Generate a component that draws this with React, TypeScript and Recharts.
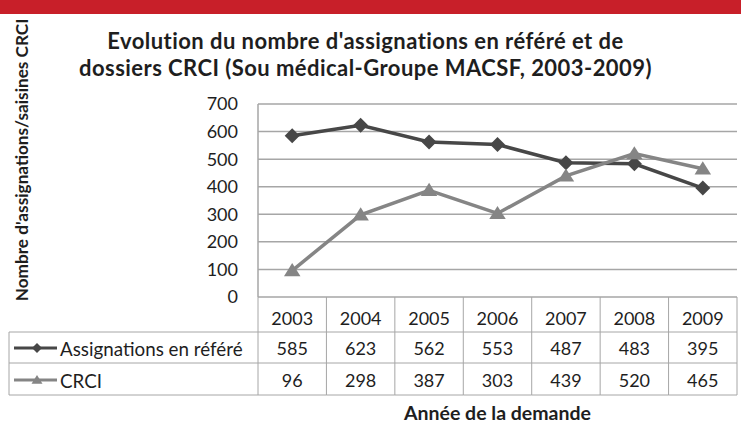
import { CartesianGrid, Legend, Line, LineChart, XAxis, YAxis } from "recharts";

const years = ["2003", "2004", "2005", "2006", "2007", "2008", "2009"];
const assignations = [585, 623, 562, 553, 487, 483, 395];
const crci = [96, 298, 387, 303, 439, 520, 465];
const yTicks = [0, 100, 200, 300, 400, 500, 600, 700];

const series = [
  { key: "assignations", name: "Assignations en référé", values: assignations, color: "#474747", shape: "diamond" },
  { key: "crci", name: "CRCI", values: crci, color: "#858585", shape: "triangle" },
];

const rows = years.map((year, i) => ({
  year,
  assignations: assignations[i],
  crci: crci[i],
}));

const W = 741;
const H = 431;
const PLOT_LEFT = 258;
const RIGHT = 4;
const COL_W = (W - PLOT_LEFT - RIGHT) / years.length;
const ROW_LINES = [35, 66, 98];
const ROW_TEXT = [21, 51, 83];
const GRID = "#a6a6a6";
const INK = "#1e1e1e";
const FONT = "Lato, 'Open Sans', sans-serif";

function marker(shape: string, cx: number, cy: number, r: number, color: string) {
  if (shape === "diamond") {
    return (
      <polygon
        points={`${cx},${cy - r} ${cx + r},${cy} ${cx},${cy + r} ${cx - r},${cy}`}
        fill={color}
      />
    );
  }
  return (
    <polygon
      points={`${cx},${cy - r} ${cx + r * 1.1},${cy + r * 0.75} ${cx - r * 1.1},${cy + r * 0.75}`}
      fill={color}
    />
  );
}

// one column of the data table under the plot, drawn from the x axis tick
function TableTick(props: any) {
  const { x, y, payload, index } = props;
  const l = x - COL_W / 2;
  const r = x + COL_W / 2;
  return (
    <g>
      {index === 0 && <line x1={l} y1={y} x2={l} y2={y + ROW_LINES[2]} stroke={GRID} />}
      <line x1={r} y1={y} x2={r} y2={y + ROW_LINES[2]} stroke={GRID} />
      {ROW_LINES.map((d) => (
        <line key={d} x1={l} y1={y + d} x2={r} y2={y + d} stroke={GRID} />
      ))}
      <text x={x} y={y + ROW_TEXT[0]} textAnchor="middle" dominantBaseline="central" fontSize={18} fill={INK}>
        {payload.value}
      </text>
      {series.map((s, k) => (
        <text
          key={s.key}
          x={x}
          y={y + ROW_TEXT[k + 1]}
          textAnchor="middle"
          dominantBaseline="central"
          fontSize={18}
          fill={INK}
        >
          {s.values[index]}
        </text>
      ))}
    </g>
  );
}

function TableLegend() {
  return (
    <svg width={PLOT_LEFT + 1} height={100} style={{ display: "block" }}>
      <line x1={9} y1={ROW_LINES[0]} x2={9} y2={ROW_LINES[2]} stroke={GRID} />
      {ROW_LINES.map((d) => (
        <line key={d} x1={9} y1={d} x2={PLOT_LEFT} y2={d} stroke={GRID} />
      ))}
      {series.map((s, k) => {
        const cy = ROW_TEXT[k + 1];
        return (
          <g key={s.key}>
            <line x1={14} y1={cy} x2={57} y2={cy} stroke={s.color} strokeWidth={3} />
            {marker(s.shape, 37, cy, 5, s.color)}
            <text x={60} y={cy} dominantBaseline="central" fontSize={18.8} fill={INK} fontFamily={FONT}>
              {s.name}
            </text>
          </g>
        );
      })}
    </svg>
  );
}

function YTitle() {
  return (
    <text
      x={21}
      y={160}
      transform="rotate(-90, 21, 160)"
      textAnchor="middle"
      dominantBaseline="central"
      fontSize={17.2}
      fontWeight="bold"
      fill={INK}
      fontFamily={FONT}
    >
      Nombre d'assignations/saisines CRCI
    </text>
  );
}

export default function App() {
  return (
    <div style={{ position: "absolute", left: 0, top: 0, width: W, height: H, background: "#fff", fontFamily: FONT }}>
      <div style={{ position: "absolute", left: 0, top: 0, width: W, height: 14, background: "#c81f29" }} />
      <LineChart
        width={W}
        height={H}
        data={rows}
        margin={{ top: 104, right: RIGHT, bottom: 4, left: 0 }}
        style={{ position: "absolute", left: 0, top: 0, fontFamily: FONT }}
      >
        <CartesianGrid vertical={false} stroke={GRID} strokeWidth={1.5} />
        <XAxis
          dataKey="year"
          scale="band"
          height={130}
          tickSize={0}
          tickMargin={0}
          axisLine={false}
          tick={<TableTick />}
          interval={0}
          label={{
            value: "Année de la demande",
            position: "insideBottom",
            offset: 7,
            fontSize: 19.5,
            fontWeight: "bold",
            fill: INK,
          }}
        />
        <YAxis
          width={PLOT_LEFT}
          domain={[0, 700]}
          ticks={yTicks}
          tickLine={false}
          tickSize={0}
          tickMargin={20}
          axisLine={{ stroke: GRID, strokeWidth: 1.5 }}
          tick={{ fontSize: 18, fill: INK }}
          label={{ content: <YTitle /> }}
        />
        <Legend
          layout="vertical"
          align="center"
          verticalAlign="middle"
          content={<TableLegend />}
          wrapperStyle={{ position: "absolute", left: 0, top: 297, width: PLOT_LEFT + 1, height: 100 }}
        />
        {series.map((s) => (
          <Line
            key={s.key}
            dataKey={s.key}
            name={s.name}
            stroke={s.color}
            strokeWidth={3.5}
            isAnimationActive={false}
            dot={(p: any) => <g key={`${s.key}-${p.index}`}>{marker(s.shape, p.cx, p.cy, 7.5, s.color)}</g>}
            activeDot={false}
          />
        ))}
      </LineChart>
      <div
        style={{
          position: "absolute",
          left: 0,
          top: 27,
          width: W - 10,
          textAlign: "center",
          fontSize: 22,
          letterSpacing: 0.45,
          fontWeight: "bold",
          lineHeight: "27px",
          color: INK,
        }}
      >
        Evolution du nombre d'assignations en référé et de
        <br />
        dossiers CRCI (Sou médical-Groupe MACSF, 2003-2009)
      </div>
    </div>
  );
}
